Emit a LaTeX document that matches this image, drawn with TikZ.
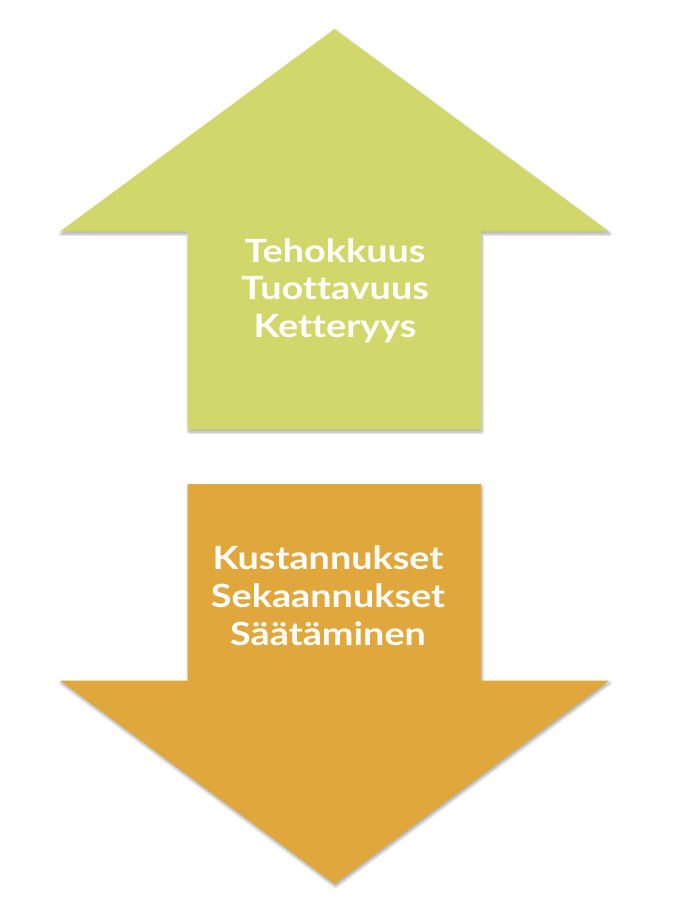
\documentclass[tikz,border=0pt]{standalone}
\usepackage{fontspec}
\setmainfont{Lato}[FakeStretch=1.18, Ligatures=NoCommon]
\usetikzlibrary{shadows.blur}
\definecolor{upgreen}{RGB}{209,215,106}
\definecolor{downorange}{RGB}{224,168,60}
\tikzset{
  arrowshape/.style={draw=none, blur shadow={shadow xshift=1pt, shadow yshift=-2.5pt, shadow blur steps=6, shadow blur radius=3pt, shadow opacity=35}},
  lbl/.style={text=white, font=\fontsize{32}{38}\selectfont\bfseries, anchor=base, inner sep=0pt}
}
\begin{document}
\begin{tikzpicture}[x=1pt,y=-1pt]
\useasboundingbox (0,0) rectangle (685,918);
% up arrow
\path[arrowshape, fill=upgreen] (334.5,29) -- (609,231.5) -- (481,231.5) -- (481,429.5) -- (187.5,429.5) -- (187.5,231.5) -- (60,231.5) -- cycle;
% down arrow
\path[arrowshape, fill=downorange] (187.5,484) -- (481,484) -- (481,680.5) -- (609,680.5) -- (334.5,884) -- (60,680.5) -- (187.5,680.5) -- cycle;
\node[lbl] (u1) at (335,262) {Tehokkuus};
\node[lbl] (u2) at (335,299.5) {Tuottavuus};
\node[lbl] (u3) at (335,337) {Ketteryys};
\node[lbl] (d1) at (328,569.5) {Kustannukset};
\node[lbl] (d2) at (328,607.5) {Sekaannukset};
\node[lbl] (d3) at (328,645.5) {Säätäminen};
\end{tikzpicture}
\end{document}
